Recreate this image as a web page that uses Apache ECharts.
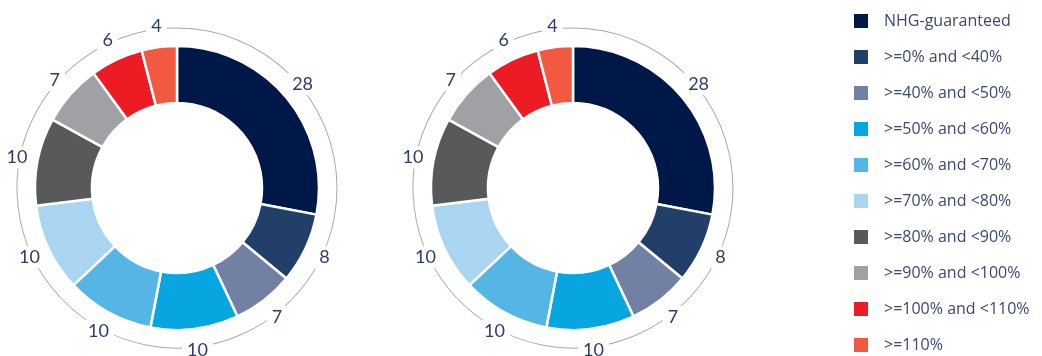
<!DOCTYPE html>
<html>
<head>
<meta charset="utf-8">
<script src="https://cdn.jsdelivr.net/npm/echarts@6/dist/echarts.min.js"></script>
<style>
html,body{margin:0;padding:0;background:#fff;}
#chart{width:1042px;height:356px;}
</style>
</head>
<body>
<div id="chart"></div>
<script>
const categories = ['NHG-guaranteed', '>=0% and <40%', '>=40% and <50%', '>=50% and <60%', '>=60% and <70%', '>=70% and <80%', '>=80% and <90%', '>=90% and <100%', '>=100% and <110%', '>=110%'];
const valuesLeft = [28, 8, 7, 10, 10, 10, 10, 7, 6, 4];
const valuesRight = [28, 8, 7, 10, 10, 10, 10, 7, 6, 4];
const colors = ['#001847', '#213f69', '#7281a3', '#07a6e0', '#55b6e5', '#a9d5f1', '#58595b', '#a0a1a4', '#ed1c24', '#f15a40'];

const fontFam = 'Lato, "Open Sans", sans-serif';
const labelColor = '#2e3d68';

function pieData(vals) {
  return categories.map((c, i) => ({ name: c, value: vals[i], itemStyle: { color: colors[i] } }));
}
function ringData(vals) {
  return categories.map((c, i) => ({ name: c, value: vals[i] }));
}

function donut(center, vals) {
  return {
    type: 'pie',
    center: center,
    radius: [85, 142],
    startAngle: 90,
    clockwise: true,
    silent: true,
    animation: false,
    label: { show: false },
    labelLine: { show: false },
    itemStyle: { borderColor: '#fff', borderWidth: 2.5 },
    emphasis: { disabled: true },
    data: pieData(vals)
  };
}
function ring(center, vals) {
  return {
    type: 'pie',
    center: center,
    radius: [159.5, 160.5],
    startAngle: 90,
    clockwise: true,
    silent: true,
    animation: false,
    legendHoverLink: false,
    itemStyle: { color: '#a9a9a9', borderWidth: 0 },
    label: {
      show: true,
      position: 'inside',
      formatter: '{c}',
      fontFamily: fontFam,
      fontSize: 18,
      color: labelColor,
      backgroundColor: '#fff',
      padding: [2, 5]
    },
    labelLine: { show: false },
    emphasis: { disabled: true },
    data: ringData(vals)
  };
}

const chart = echarts.init(document.getElementById('chart'), null, { renderer: 'canvas' });
chart.setOption({
  backgroundColor: '#fff',
  animation: false,
  legend: {
    orient: 'vertical',
    left: 852,
    top: 12,
    padding: 0,
    itemWidth: 16,
    itemHeight: 16,
    itemGap: 18,
    icon: 'rect',
    selectedMode: false,
    textStyle: { fontFamily: '"Open Sans", sans-serif', fontSize: 16, lineHeight: 16, color: '#3a4870', padding: [0, 0, 0, 10] },
    data: categories.map((c, i) => ({ name: c, itemStyle: { color: colors[i] } }))
  },
  series: [
    donut([177, 188], valuesLeft),
    donut([573, 188], valuesRight),
    ring([177, 188], valuesLeft),
    ring([573, 188], valuesRight)
  ]
});
</script>
</body>
</html>
